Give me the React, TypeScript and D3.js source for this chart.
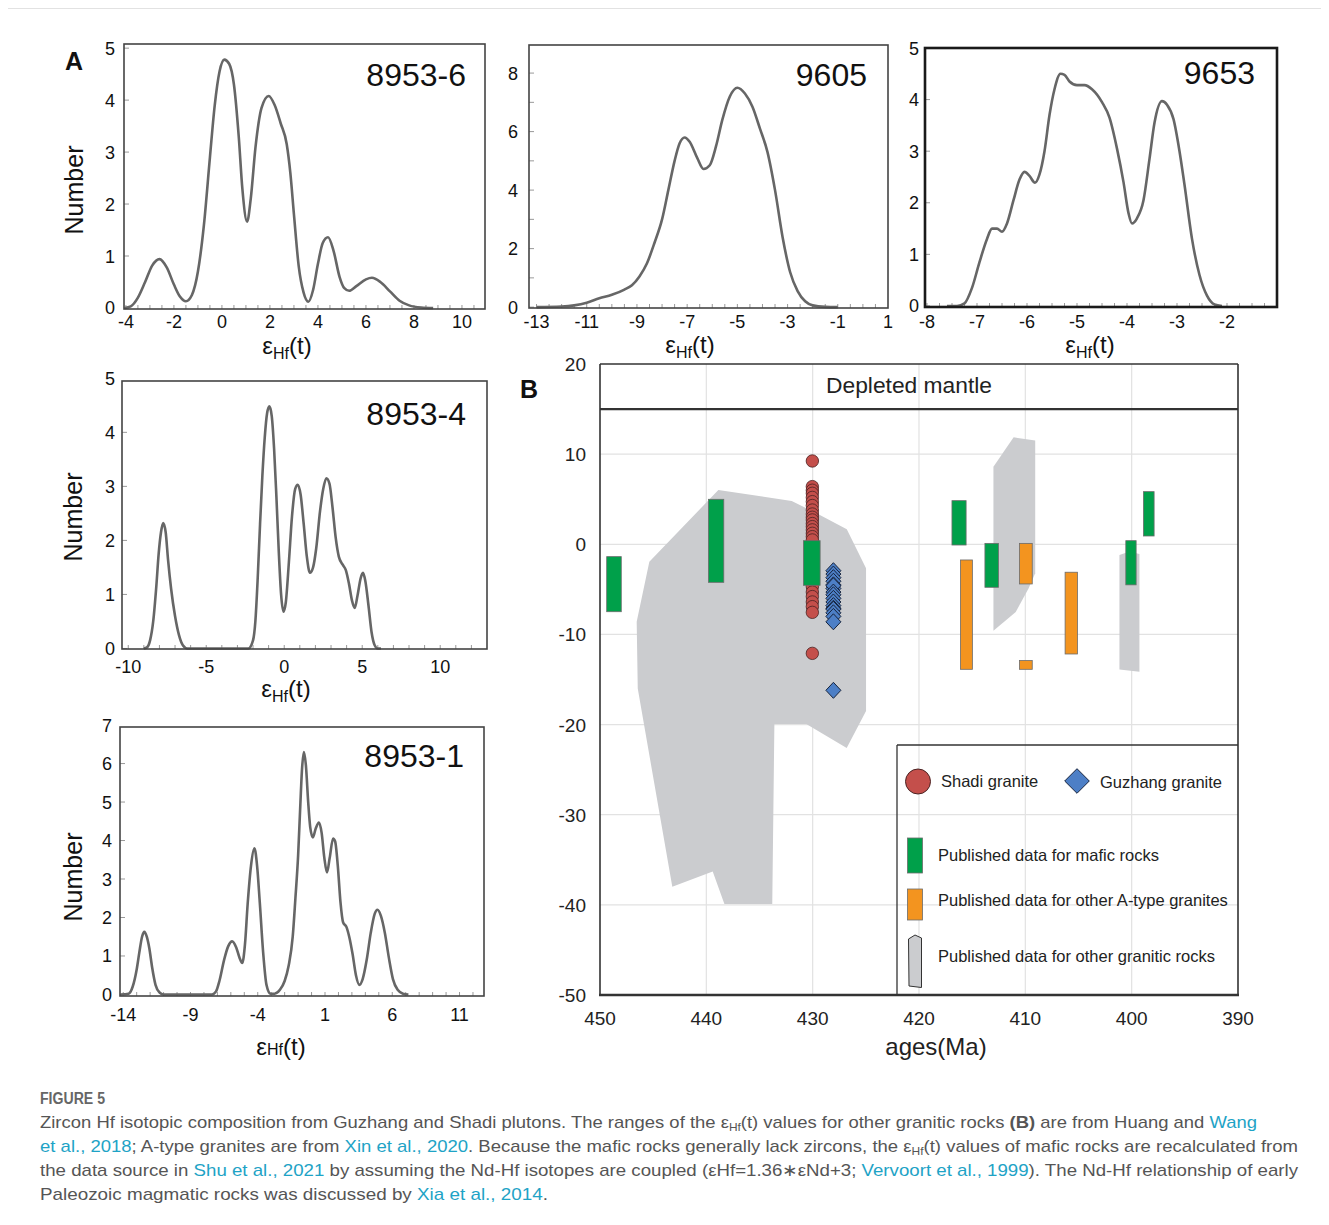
import React from "react";
import * as d3 from "d3";

const FONT = "'Liberation Sans', Arial, Helvetica, sans-serif";
const LINK = "#1ea3c6";

// ---------- Panel A: KDE curves [εHf(t), Number] ----------
const curve8953_6: [number, number][] = [
  [-4.05, 0], [-3.8, 0.03], [-3.5, 0.2], [-3.2, 0.5], [-2.9, 0.82], [-2.6, 0.94], [-2.3, 0.78],
  [-2.0, 0.45], [-1.75, 0.22], [-1.5, 0.13], [-1.25, 0.25], [-1.0, 0.7], [-0.75, 1.6], [-0.5, 2.9],
  [-0.3, 3.9], [-0.1, 4.55], [0.1, 4.78], [0.3, 4.7], [0.5, 4.3], [0.7, 3.3], [0.85, 2.3],
  [1.05, 1.66], [1.2, 2.1], [1.4, 3.1], [1.65, 3.85], [1.95, 4.08], [2.2, 3.9], [2.45, 3.55],
  [2.7, 3.15], [2.85, 2.6], [3.0, 1.8], [3.2, 0.8], [3.4, 0.3], [3.6, 0.12], [3.8, 0.35],
  [4.0, 0.85], [4.2, 1.25], [4.42, 1.36], [4.65, 1.1], [4.9, 0.6], [5.1, 0.38], [5.3, 0.33],
  [5.6, 0.42], [6.0, 0.55], [6.25, 0.58], [6.6, 0.5], [7.0, 0.32], [7.4, 0.14], [7.8, 0.05],
  [8.3, 0.01], [8.8, 0],
];
const curve9605: [number, number][] = [
  [-13, 0], [-12, 0.02], [-11.5, 0.06], [-11, 0.15], [-10.5, 0.3], [-10, 0.42], [-9.5, 0.6],
  [-9.2, 0.75], [-8.9, 1.05], [-8.6, 1.5], [-8.3, 2.2], [-8.0, 3.0], [-7.75, 4.0], [-7.5, 5.0],
  [-7.3, 5.6], [-7.1, 5.8], [-6.9, 5.65], [-6.6, 5.1], [-6.35, 4.72], [-6.1, 4.85], [-5.85, 5.5],
  [-5.6, 6.4], [-5.3, 7.2], [-5.0, 7.5], [-4.7, 7.3], [-4.4, 6.85], [-4.1, 6.1], [-3.8, 5.3],
  [-3.5, 4.0], [-3.2, 2.4], [-2.9, 1.2], [-2.6, 0.55], [-2.3, 0.2], [-2.0, 0.06], [-1.5, 0.01],
  [-1.0, 0],
];
const curve9653: [number, number][] = [
  [-7.6, 0], [-7.4, 0], [-7.25, 0.05], [-7.1, 0.35], [-6.95, 0.85], [-6.8, 1.3], [-6.7, 1.5],
  [-6.6, 1.5], [-6.5, 1.44], [-6.4, 1.6], [-6.27, 2.05], [-6.15, 2.45], [-6.05, 2.6], [-5.95, 2.52],
  [-5.84, 2.39], [-5.75, 2.55], [-5.65, 3.0], [-5.55, 3.7], [-5.45, 4.2], [-5.33, 4.5],
  [-5.25, 4.48], [-5.15, 4.35], [-5.0, 4.28], [-4.85, 4.28], [-4.7, 4.2], [-4.5, 3.95],
  [-4.35, 3.65], [-4.2, 3.05], [-4.07, 2.4], [-3.97, 1.8], [-3.9, 1.6], [-3.8, 1.7], [-3.67, 2.05],
  [-3.55, 2.85], [-3.45, 3.55], [-3.3, 3.97], [-3.2, 3.9], [-3.07, 3.62], [-2.95, 3.0],
  [-2.85, 2.35], [-2.7, 1.3], [-2.55, 0.6], [-2.4, 0.2], [-2.25, 0.03], [-2.1, 0],
];
const curve8953_4: [number, number][] = [
  [-9, 0], [-8.8, 0.02], [-8.6, 0.15], [-8.4, 0.5], [-8.2, 1.15], [-8.05, 1.75], [-7.9, 2.15],
  [-7.76, 2.32], [-7.6, 2.15], [-7.45, 1.65], [-7.25, 1.1], [-7.0, 0.6], [-6.75, 0.25],
  [-6.5, 0.06], [-6.2, 0], [-2.3, 0], [-2.0, 0.15], [-1.85, 0.5], [-1.7, 1.3], [-1.55, 2.3],
  [-1.4, 3.2], [-1.25, 3.9], [-1.1, 4.35], [-0.95, 4.48], [-0.8, 4.3], [-0.65, 3.7], [-0.5, 2.8],
  [-0.35, 1.8], [-0.2, 1.0], [-0.05, 0.68], [0.1, 0.85], [0.3, 1.6], [0.5, 2.45], [0.7, 2.95],
  [0.87, 3.03], [1.05, 2.85], [1.25, 2.3], [1.45, 1.7], [1.65, 1.4], [1.85, 1.5], [2.05, 1.85],
  [2.3, 2.55], [2.5, 2.95], [2.7, 3.15], [2.9, 3.05], [3.1, 2.6], [3.3, 2.05], [3.5, 1.7],
  [3.75, 1.55], [3.95, 1.45], [4.15, 1.2], [4.35, 0.88], [4.52, 0.75], [4.7, 0.98], [4.9, 1.3],
  [5.05, 1.4], [5.2, 1.25], [5.4, 0.8], [5.6, 0.3], [5.8, 0.06], [6.0, 0], [6.2, 0],
];
const curve8953_1: [number, number][] = [
  [-14.2, 0], [-13.6, 0.02], [-13.3, 0.2], [-13.0, 0.65], [-12.8, 1.1], [-12.6, 1.5],
  [-12.43, 1.63], [-12.25, 1.5], [-12.06, 1.2], [-11.85, 0.7], [-11.6, 0.25], [-11.3, 0.05],
  [-11.0, 0], [-7.4, 0], [-7.1, 0.08], [-6.85, 0.35], [-6.5, 0.9], [-6.2, 1.25], [-5.9, 1.38],
  [-5.6, 1.22], [-5.35, 0.95], [-5.15, 0.82], [-4.95, 1.3], [-4.75, 2.35], [-4.5, 3.35],
  [-4.25, 3.8], [-4.05, 3.35], [-3.85, 2.4], [-3.6, 1.1], [-3.35, 0.25], [-3.05, 0.02],
  [-2.75, 0.02], [-2.35, 0.12], [-2.0, 0.35], [-1.7, 0.75], [-1.4, 1.5], [-1.2, 2.5], [-1.0, 3.6],
  [-0.85, 4.8], [-0.7, 5.9], [-0.57, 6.3], [-0.42, 5.95], [-0.25, 5.0], [-0.1, 4.35], [0.1, 4.08],
  [0.3, 4.3], [0.55, 4.47], [0.75, 4.2], [0.95, 3.55], [1.15, 3.17], [1.35, 3.55], [1.6, 4.05],
  [1.75, 3.98], [1.95, 3.35], [2.15, 2.4], [2.35, 1.87], [2.6, 1.75], [2.8, 1.5], [3.05, 1.05],
  [3.3, 0.5], [3.55, 0.25], [3.8, 0.4], [4.1, 0.9], [4.4, 1.6], [4.7, 2.1], [4.9, 2.2],
  [5.15, 2.05], [5.45, 1.6], [5.75, 0.95], [6.05, 0.4], [6.4, 0.12], [6.8, 0.02], [7.2, 0],
];

const ticks8953_6X = [-4, -2, 0, 2, 4, 6, 8, 10];
const ticks8953_6Y = [0, 1, 2, 3, 4, 5];
const ticks9605X = [-13, -11, -9, -7, -5, -3, -1, 1];
const ticks9605Y = [0, 2, 4, 6, 8];
const ticks9653X = [-8, -7, -6, -5, -4, -3, -2];
const ticks9653Y = [0, 1, 2, 3, 4, 5];
const ticks8953_4X = [-10, -5, 0, 5, 10];
const ticks8953_4Y = [0, 1, 2, 3, 4, 5];
const ticks8953_1X = [-14, -9, -4, 1, 6, 11];
const ticks8953_1Y = [0, 1, 2, 3, 4, 5, 6, 7];

// ---------- Panel B ----------
const ageTicks = [450, 440, 430, 420, 410, 400, 390];
const ehfTicks = [20, 10, 0, -10, -20, -30, -40, -50];
const ageGrid = [440, 430, 420, 410, 400];
const ehfGrid = [10, 0, -10, -20, -30, -40];
const depletedMantle = 15;

const maficRanges = [
  { from: 449.37, to: 448.0, min: -7.48, max: -1.37 },
  { from: 439.8, to: 438.36, min: -4.22, max: 4.99 },
  { from: 430.87, to: 429.3, min: -4.55, max: 0.4 },
  { from: 416.9, to: 415.57, min: -0.08, max: 4.84 },
  { from: 413.8, to: 412.53, min: -4.77, max: 0.1 },
  { from: 400.55, to: 399.58, min: -4.5, max: 0.4 },
  { from: 398.89, to: 397.89, min: 0.92, max: 5.84 },
];
const aTypeRanges = [
  { from: 416.1, to: 414.98, min: -13.87, max: -1.74 },
  { from: 410.55, to: 409.35, min: -4.4, max: 0.1 },
  { from: 410.55, to: 409.35, min: -13.87, max: -12.9 },
  { from: 406.26, to: 405.1, min: -12.17, max: -3.1 },
];
const graniticFieldA: [number, number][] = [
  [445.36, -1.93], [438.87, 6.02], [431.97, 4.8], [429.9, 3.6], [426.79, 1.66], [424.98, -2.66],
  [424.98, -18.5], [426.8, -22.6], [430.6, -19.95], [433.6, -19.95], [433.8, -39.9],
  [438.3, -39.9], [439.4, -36.3], [443.2, -38.0], [446.45, -16.0], [446.55, -8.6],
];
const graniticFieldB: [number, number][] = [
  [413.0, 8.6], [411.1, 11.87], [409.07, 11.5], [409.07, -3.2], [409.7, -4.9], [410.9, -7.5],
  [413.0, -9.6],
];
const graniticFieldC: [number, number][] = [
  [401.15, -1.19], [400.2, -0.8], [399.27, -1.08], [399.27, -14.13], [401.15, -13.9],
];
const shadiAge = 430.03;
const shadiValues = [
  9.24, 6.4, 6.0, 5.66, 5.2, 4.73, 4.3, 3.8, 3.36, 3.0, 2.7, 2.3, 1.96, 1.6, 1.22, 0.85, 0.48,
  -0.5, -2.0, -3.5, -4.7, -5.3, -5.8, -6.4, -6.92, -7.55, -12.1,
];
const guzhangAge = 428.05;
const guzhangValues = [
  -2.93, -3.3, -3.7, -4.1, -4.5, -4.9, -4.6, -5.3, -5.6, -6.0, -6.4, -6.8, -7.1, -7.2, -7.6, -8.0,
  -8.6, -16.2,
];
const legendPoints = ["Shadi granite", "Guzhang granite"];
const legendRanges = [
  "Published data for mafic rocks",
  "Published data for other A-type granites",
  "Published data for other granitic rocks",
];

const GREEN = "#00a04a";
const ORANGE = "#f3941f";
const GRAY = "#cbcccf";
const RED = "#c44f4b";
const BLUE = "#4d7fc6";

type PanelProps = {
  box: [number, number, number, number]; // x0, x1, yTop, yBottom
  xDomain: [number, number];
  yDomain: [number, number];
  xTicks: number[];
  yTicks: number[];
  minor: number;
  data: [number, number][];
  label: string;
  labelPos: [number, number];
  xLabOff: number;
  yLabX: number;
  xTitle: [number, number];
  numberTitle?: [number, number];
  thick?: boolean;
  subShift?: number;
};

function KdePanel(p: PanelProps) {
  const [x0, x1, yT, yB] = p.box;
  const x = d3.scaleLinear().domain(p.xDomain).range([x0, x1]);
  const y = d3.scaleLinear().domain(p.yDomain).range([yB, yT]);
  const line = d3
    .line<[number, number]>()
    .x((d) => x(d[0]))
    .y((d) => y(d[1]))
    .curve(d3.curveMonotoneX);
  const minorTicks = d3.range(
    Math.ceil(p.xDomain[0] / p.minor) * p.minor,
    p.xDomain[1],
    p.minor
  );
  const yMinor = d3.range(0, Math.floor(p.yDomain[1]) + 1, 1);
  const sub = p.subShift ?? 5;
  return (
    <g fontFamily={FONT}>
      {minorTicks.map((v, i) => (
        <line key={"mx" + i} x1={x(v)} x2={x(v)} y1={yB} y2={yB - 4} stroke="#999" strokeWidth={1} />
      ))}
      {yMinor.map((v, i) => (
        <line key={"my" + i} x1={x0} x2={x0 + 5} y1={y(v)} y2={y(v)} stroke="#999" strokeWidth={1} />
      ))}
      <path d={line(p.data) || ""} fill="none" stroke="#666" strokeWidth={2.6} strokeLinejoin="round" />
      <rect
        x={x0}
        y={yT}
        width={x1 - x0}
        height={yB - yT}
        fill="none"
        stroke={p.thick ? "#1a1a1a" : "#444"}
        strokeWidth={p.thick ? 2.6 : 1.6}
      />
      {p.xTicks.map((v) => (
        <text key={"xt" + v} x={x(v)} y={yB + p.xLabOff + 6} fontSize={18} textAnchor="middle" fill="#111">
          {v}
        </text>
      ))}
      {p.yTicks.map((v) => (
        <text key={"yt" + v} x={p.yLabX} y={y(v) + 6.5} fontSize={18} textAnchor="middle" fill="#111">
          {v}
        </text>
      ))}
      <text x={p.labelPos[0]} y={p.labelPos[1] + 11.5} fontSize={32} textAnchor="end" fill="#111">
        {p.label}
      </text>
      <text x={p.xTitle[0]} y={p.xTitle[1] + 10} fontSize={24} textAnchor="middle" fill="#111">
        {"ε"}
        <tspan fontSize={16} dy={sub}>
          Hf
        </tspan>
        <tspan dy={-sub}>(t)</tspan>
      </text>
      {p.numberTitle && (
        <text
          transform={`translate(${p.numberTitle[0] + 9},${p.numberTitle[1]}) rotate(-90)`}
          fontSize={25}
          textAnchor="middle"
          fill="#111"
        >
          Number
        </text>
      )}
    </g>
  );
}

function PanelB() {
  const x = d3.scaleLinear().domain([450, 390]).range([600, 1238]);
  const y = d3.scaleLinear().domain([-50, 20]).range([995, 364]);
  const poly = d3
    .line<[number, number]>()
    .x((d) => x(d[0]))
    .y((d) => y(d[1]))
    .curve(d3.curveLinearClosed);
  const diamond = "M0,-8 L7.5,0 L0,8 L-7.5,0 Z";
  const bar = (r: { from: number; to: number; min: number; max: number }, fill: string, k: string) => (
    <rect
      key={k}
      x={x(r.from)}
      width={x(r.to) - x(r.from)}
      y={y(r.max)}
      height={y(r.min) - y(r.max)}
      fill={fill}
      stroke="#6b6b6b"
      strokeWidth={0.8}
    />
  );
  const lgX = 897;
  const lgY = 745;
  return (
    <g fontFamily={FONT}>
      {ageGrid.map((v) => (
        <line key={"ga" + v} x1={x(v)} x2={x(v)} y1={y(20)} y2={y(-50)} stroke="#e2e2e2" strokeWidth={1.2} />
      ))}
      {ehfGrid.map((v) => (
        <line key={"ge" + v} x1={x(450)} x2={x(390)} y1={y(v)} y2={y(v)} stroke="#e2e2e2" strokeWidth={1.2} />
      ))}
      <path d={poly(graniticFieldA) || ""} fill={GRAY} />
      <path d={poly(graniticFieldB) || ""} fill={GRAY} />
      <path d={poly(graniticFieldC) || ""} fill={GRAY} />
      {shadiValues.map((v, i) => (
        <circle key={"s" + i} cx={x(shadiAge)} cy={y(v)} r={6.2} fill={RED} stroke="#4a2222" strokeWidth={0.8} />
      ))}
      {maficRanges.map((r, i) => bar(r, GREEN, "m" + i))}
      {aTypeRanges.map((r, i) => bar(r, ORANGE, "a" + i))}
      {guzhangValues.map((v, i) => (
        <path
          key={"g" + i}
          d={diamond}
          transform={`translate(${x(guzhangAge)},${y(v)})`}
          fill={BLUE}
          stroke="#15233d"
          strokeWidth={1}
        />
      ))}
      <line x1={x(450)} x2={x(390)} y1={y(depletedMantle)} y2={y(depletedMantle)} stroke="#333" strokeWidth={2.2} />
      <text x={909} y={y(depletedMantle) - 16} fontSize={22} textAnchor="middle" fill="#222" textLength={166} lengthAdjust="spacingAndGlyphs">
        Depleted mantle
      </text>
      <line x1={x(450)} x2={x(450)} y1={y(20)} y2={y(-50)} stroke="#333" strokeWidth={1.6} />
      <line x1={x(390)} x2={x(390)} y1={y(20)} y2={y(-50)} stroke="#333" strokeWidth={1.6} />
      <line x1={x(450)} x2={x(390)} y1={y(20)} y2={y(20)} stroke="#333" strokeWidth={1.6} />
      <line x1={x(450) - 1} x2={x(390) + 1} y1={y(-50)} y2={y(-50)} stroke="#333" strokeWidth={2.4} />
      {ageTicks.map((v) => (
        <text key={"at" + v} x={x(v)} y={1025} fontSize={19} textAnchor="middle" fill="#222">
          {v}
        </text>
      ))}
      {ehfTicks.map((v) => (
        <text key={"et" + v} x={586} y={y(v) + 7} fontSize={19} textAnchor="end" fill="#222">
          {v}
        </text>
      ))}
      <text x={936} y={1055} fontSize={24} textAnchor="middle" fill="#222">
        ages(Ma)
      </text>
      {/* legend */}
      <line x1={lgX} x2={lgX} y1={lgY} y2={y(-50)} stroke="#333" strokeWidth={1.3} />
      <line x1={lgX} x2={x(390)} y1={lgY} y2={lgY} stroke="#333" strokeWidth={1.3} />
      <circle cx={918} cy={781.5} r={12.5} fill={RED} stroke="#4a2222" strokeWidth={1} />
      <text x={941} y={787} fontSize={16.5} fill="#222">
        {legendPoints[0]}
      </text>
      <path d="M0,-12.3 L12.3,0 L0,12.3 L-12.3,0 Z" transform="translate(1077,781)" fill={BLUE} stroke="#15233d" strokeWidth={1} />
      <text x={1100} y={788} fontSize={16.5} fill="#222">
        {legendPoints[1]}
      </text>
      <rect x={907.5} y={838} width={15} height={35} fill={GREEN} stroke="#6b6b6b" strokeWidth={0.8} />
      <text x={938} y={861} fontSize={16.5} fill="#222">
        {legendRanges[0]}
      </text>
      <rect x={907.5} y={889} width={15} height={31} fill={ORANGE} stroke="#6b6b6b" strokeWidth={0.8} />
      <text x={938} y={906} fontSize={16.5} fill="#222">
        {legendRanges[1]}
      </text>
      <path d="M908.5,939 L915,935 L921.5,938 L921.5,987.5 L909,986 Z" fill={GRAY} stroke="#333" strokeWidth={1} />
      <text x={938} y={962} fontSize={16.5} fill="#222">
        {legendRanges[2]}
      </text>
      <text x={529} y={398} fontSize={25} fontWeight="bold" textAnchor="middle" fill="#111">
        B
      </text>
    </g>
  );
}

export default function App() {
  return (
    <svg
      width={1329}
      height={1225}
      viewBox="0 0 1329 1225"
      style={{ position: "absolute", left: 0, top: 0, display: "block", background: "#fff" }}
    >
      <rect x={0} y={0} width={1329} height={1225} fill="#fff" />
      <line x1={8} x2={1321} y1={8.5} y2={8.5} stroke="#e2e2e2" strokeWidth={1} />
      <text x={74} y={70} fontFamily={FONT} fontSize={25} fontWeight="bold" textAnchor="middle" fill="#111">
        A
      </text>
      <KdePanel
        box={[124, 485, 44, 309]}
        xDomain={[-4.08, 10.96]}
        yDomain={[-0.02, 5.08]}
        xTicks={ticks8953_6X}
        yTicks={ticks8953_6Y}
        minor={0.5}
        data={curve8953_6}
        label="8953-6"
        labelPos={[466, 74]}
        xLabOff={13}
        yLabX={110}
        xTitle={[287, 344]}
        numberTitle={[74, 190]}
      />
      <KdePanel
        box={[529, 888, 45, 308]}
        xDomain={[-13.3, 1]}
        yDomain={[-0.03, 8.96]}
        xTicks={ticks9605X}
        yTicks={ticks9605Y}
        minor={0.5}
        data={curve9605}
        label="9605"
        labelPos={[867, 74]}
        xLabOff={14}
        yLabX={513}
        xTitle={[690, 343]}
      />
      <KdePanel
        box={[925, 1277, 48, 307]}
        xDomain={[-8.04, -1.0]}
        yDomain={[-0.02, 5.0]}
        xTicks={ticks9653X}
        yTicks={ticks9653Y}
        minor={0.25}
        data={curve9653}
        label="9653"
        labelPos={[1255, 72]}
        xLabOff={15}
        yLabX={914}
        xTitle={[1090, 343]}
        thick
      />
      <KdePanel
        box={[122, 487, 381, 649]}
        xDomain={[-10.4, 13.0]}
        yDomain={[-0.01, 4.95]}
        xTicks={ticks8953_4X}
        yTicks={ticks8953_4Y}
        minor={1}
        data={curve8953_4}
        label="8953-4"
        labelPos={[466, 413]}
        xLabOff={18}
        yLabX={110}
        xTitle={[286, 687]}
        numberTitle={[73, 517]}
      />
      <KdePanel
        box={[120, 484, 727, 996]}
        xDomain={[-14.24, 12.82]}
        yDomain={[-0.04, 6.95]}
        xTicks={ticks8953_1X}
        yTicks={ticks8953_1Y}
        minor={1}
        data={curve8953_1}
        label="8953-1"
        labelPos={[464, 755]}
        xLabOff={19}
        yLabX={107}
        xTitle={[281, 1045]}
        numberTitle={[73, 877]}
        subShift={0}
      />
      <PanelB />
      {/* caption */}
      <g fontFamily={FONT}>
        <text x={40} y={1104} fontSize={16} fontWeight="bold" fill="#666" textLength={65} lengthAdjust="spacingAndGlyphs">
          FIGURE 5
        </text>
        <text x={40} y={1128} fontSize={17} fill="#555" textLength={1217} lengthAdjust="spacingAndGlyphs">
          {"Zircon Hf isotopic composition from Guzhang and Shadi plutons. The ranges of the ε"}
          <tspan fontSize={11} dy={3}>Hf</tspan>
          <tspan dy={-3}>{"(t) values for other granitic rocks "}</tspan>
          <tspan fontWeight="bold">(B)</tspan>
          {" are from Huang and "}
          <tspan fill={LINK}>Wang</tspan>
        </text>
        <text x={40} y={1152} fontSize={17} fill="#555" textLength={1258} lengthAdjust="spacingAndGlyphs">
          <tspan fill={LINK}>et al., 2018</tspan>
          {"; A-type granites are from "}
          <tspan fill={LINK}>Xin et al., 2020</tspan>
          {". Because the mafic rocks generally lack zircons, the ε"}
          <tspan fontSize={11} dy={3}>Hf</tspan>
          <tspan dy={-3}>{"(t) values of mafic rocks are recalculated from"}</tspan>
        </text>
        <text x={40} y={1176} fontSize={17} fill="#555" textLength={1258} lengthAdjust="spacingAndGlyphs">
          {"the data source in "}
          <tspan fill={LINK}>Shu et al., 2021</tspan>
          {" by assuming the Nd-Hf isotopes are coupled (εHf=1.36∗εNd+3; "}
          <tspan fill={LINK}>Vervoort et al., 1999</tspan>
          {"). The Nd-Hf relationship of early"}
        </text>
        <text x={40} y={1200} fontSize={17} fill="#555" textLength={508} lengthAdjust="spacingAndGlyphs">
          {"Paleozoic magmatic rocks was discussed by "}
          <tspan fill={LINK}>Xia et al., 2014</tspan>
          {"."}
        </text>
      </g>
    </svg>
  );
}
